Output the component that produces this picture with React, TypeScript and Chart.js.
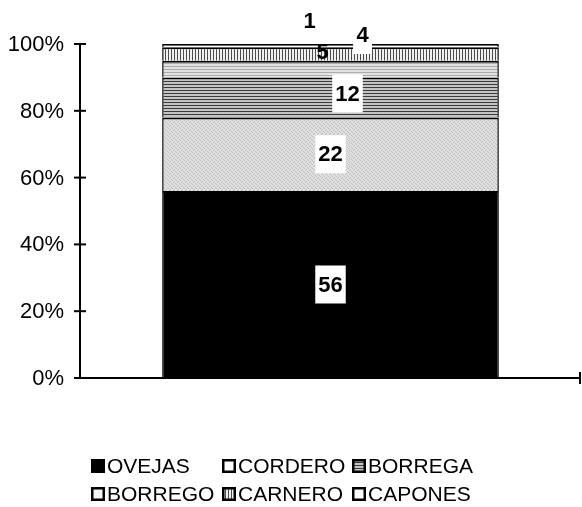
import React, { useEffect, useRef } from "react";
import { Chart, registerables } from "chart.js";

Chart.register(...registerables);

const CATEGORIES = [""];
const SERIES_NAMES = ["OVEJAS", "CORDERO", "BORREGA", "BORREGO", "CARNERO", "CAPONES"];
const OVEJAS = [56];
const CORDERO = [22];
const BORREGA = [12];
const BORREGO = [5];
const CARNERO = [4];
const CAPONES = [1];
const Y_TICKS = [0, 20, 40, 60, 80, 100];

// label placement tweaks (style, not data): [dx, dy, boxed]
const LABEL_STYLE: [number, number, boolean][] = [
  [0, 0, true],
  [0, 0, true],
  [17, -4, true],
  [-8, -17, false],
  [32, -19, true],
  [-21, -25, false],
];

const FONT = "'Liberation Sans', Arial, Helvetica, sans-serif";

function makePattern(kind: string): CanvasPattern | string {
  const c = document.createElement("canvas");
  const ctx = c.getContext("2d")!;
  if (kind === "solid") return "#000000";
  if (kind === "white") return "#ffffff";
  if (kind === "stipple") {
    c.width = 4; c.height = 4;
    ctx.fillStyle = "#e0e0e0"; ctx.fillRect(0, 0, 4, 4);
    ctx.fillStyle = "#bcbcbc";
    ctx.fillRect(0, 0, 1, 1); ctx.fillRect(2, 1, 1, 1); ctx.fillRect(1, 2, 1, 1); ctx.fillRect(3, 3, 1, 1);
  } else if (kind === "hdark") {
    c.width = 4; c.height = 3;
    ctx.fillStyle = "#c4c4c4"; ctx.fillRect(0, 0, 4, 3);
    ctx.fillStyle = "#3c3c3c"; ctx.fillRect(0, 0, 4, 1);
  } else if (kind === "hlight") {
    c.width = 4; c.height = 3;
    ctx.fillStyle = "#e2e2e2"; ctx.fillRect(0, 0, 4, 3);
    ctx.fillStyle = "#acacac"; ctx.fillRect(0, 0, 4, 1);
  } else if (kind === "vert") {
    c.width = 3; c.height = 4;
    ctx.fillStyle = "#f0f0f0"; ctx.fillRect(0, 0, 3, 4);
    ctx.fillStyle = "#4a4a4a"; ctx.fillRect(0, 0, 1, 4);
  }
  return ctx.createPattern(c, "repeat")!;
}

export default function App() {
  const ref = useRef<HTMLCanvasElement | null>(null);

  useEffect(() => {
    const canvas = ref.current!;
    const fills = [
      makePattern("solid"),
      makePattern("stipple"),
      makePattern("hdark"),
      makePattern("hlight"),
      makePattern("vert"),
      makePattern("white"),
    ];
    const legendFills = [fills[0], "#ffffff", fills[2], "#f4f4f4", fills[4], "#ffffff"];
    const values = [OVEJAS, CORDERO, BORREGA, BORREGO, CARNERO, CAPONES];

    const axesPlugin = {
      id: "customAxes",
      afterDatasetsDraw(chart: any) {
        const ctx = chart.ctx as CanvasRenderingContext2D;
        const y = chart.scales.y;
        const area = chart.chartArea;
        const ax = area.left;
        ctx.save();
        ctx.strokeStyle = "#000";
        ctx.lineWidth = 2;
        ctx.beginPath();
        ctx.moveTo(ax, y.getPixelForValue(100));
        ctx.lineTo(ax, y.getPixelForValue(0));
        ctx.stroke();
        // x axis
        const by = y.getPixelForValue(0);
        ctx.beginPath();
        ctx.moveTo(ax, by);
        ctx.lineTo(area.right - 1, by);
        ctx.moveTo(area.right - 1, by - 6);
        ctx.lineTo(area.right - 1, by + 6);
        ctx.stroke();
        ctx.font = `22px ${FONT}`;
        ctx.fillStyle = "#000";
        ctx.textAlign = "right";
        ctx.textBaseline = "middle";
        for (const t of Y_TICKS) {
          const py = y.getPixelForValue(t);
          ctx.beginPath();
          ctx.moveTo(ax - 6, py);
          ctx.lineTo(ax + 6, py);
          ctx.stroke();
          ctx.fillText(`${t}%`, ax - 16, py + 1);
        }

        // value labels
        ctx.font = `bold 22px ${FONT}`;
        ctx.textAlign = "center";
        chart.data.datasets.forEach((ds: any, i: number) => {
          const el = chart.getDatasetMeta(i).data[0];
          if (!el) return;
          const [dx, dy, boxed] = LABEL_STYLE[i];
          const cx = el.x + dx;
          const cy = (el.y + el.base) / 2 + dy;
          const text = String(ds.data[0]);
          const w = ctx.measureText(text).width;
          if (boxed) {
            ctx.fillStyle = "#fff";
            const bw = Math.max(w + 6, 19);
            ctx.fillRect(cx - bw / 2, cy - 19, bw, 38);
          }
          ctx.fillStyle = "#000";
          ctx.fillText(text, cx, cy + 1);
        });

        // legend
        const cols = [91, 222, 352];
        const rows = [466, 494];
        ctx.textAlign = "left";
        ctx.font = `21px ${FONT}`;
        SERIES_NAMES.forEach((name, i) => {
          const lx = cols[i % 3];
          const ly = rows[Math.floor(i / 3)];
          ctx.fillStyle = legendFills[i] as any;
          ctx.fillRect(lx, ly - 7, 14, 14);
          ctx.lineWidth = 2.5;
          ctx.strokeStyle = "#000";
          ctx.strokeRect(lx + 1.25, ly - 5.75, 11.5, 11.5);
          ctx.fillStyle = "#000";
          ctx.fillText(name, lx + 16, ly + 1);
        });
        ctx.restore();
      },
    };

    const chart = new Chart(canvas, {
      type: "bar",
      data: {
        labels: CATEGORIES,
        datasets: SERIES_NAMES.map((name, i) => ({
          label: name,
          data: values[i],
          backgroundColor: fills[i] as any,
          borderColor: "#000",
          borderWidth: { top: 2, left: 1.5, right: 1.5, bottom: 0 },
          borderSkipped: false,
          categoryPercentage: 1,
          barPercentage: 0.672,
        })),
      },
      options: {
        responsive: false,
        animation: false,
        layout: { padding: { left: 80, right: 1, top: 44, bottom: 129 } },
        plugins: {
          legend: { display: false },
          tooltip: { enabled: false },
          title: { display: false },
        },
        scales: {
          x: { stacked: true, display: false },
          y: { stacked: true, display: false, min: 0, max: 100 },
        },
      },
      plugins: [axesPlugin],
    });
    return () => chart.destroy();
  }, []);

  return (
    <div style={{ position: "absolute", left: 0, top: 0, width: 582, height: 507, background: "#fff" }}>
      <canvas ref={ref} width={582} height={507} />
    </div>
  );
}
